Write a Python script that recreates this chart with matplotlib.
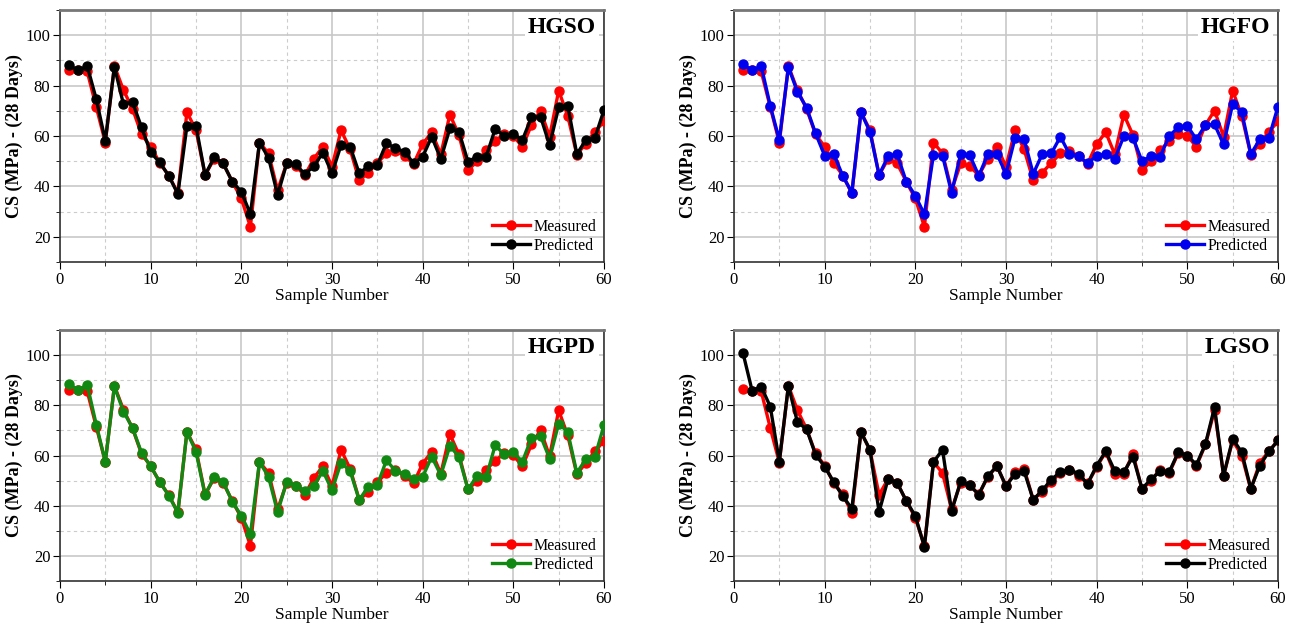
import numpy as np
import matplotlib
matplotlib.use("Agg")
from matplotlib import pyplot as plt
from matplotlib.ticker import MultipleLocator

plt.rcParams['font.family'] = ['Liberation Serif', 'DejaVu Serif']

# sample numbers 1..60
samples = np.arange(1, 61)

# measured compressive strength (HG mixes share the same measured set)
measured_hg = [86.2, 86.0, 85.6, 71.5, 57.4, 87.8, 78.2, 70.8, 60.6, 55.8,
               49.4, 44.3, 37.3, 69.4, 62.4, 44.5, 50.9, 49.1, 41.9, 35.2,
               24.0, 57.4, 53.1, 38.5, 49.1, 48.0, 44.4, 51.0, 55.8, 47.8,
               62.3, 54.7, 42.4, 45.5, 49.3, 53.1, 54.1, 52.0, 49.0, 56.8,
               61.5, 52.7, 68.5, 60.4, 46.5, 49.9, 54.3, 58.0, 60.8, 60.1,
               55.7, 64.4, 70.1, 59.7, 78.0, 68.0, 52.6, 57.0, 61.7, 65.8]

measured_lg = [86.5, 85.8, 85.6, 71.0, 57.2, 87.8, 78.0, 70.6, 60.8, 56.0,
               49.0, 44.5, 37.2, 69.5, 62.0, 44.3, 50.7, 49.1, 41.9, 35.2,
               24.0, 57.4, 53.0, 38.5, 49.1, 48.1, 44.6, 51.5, 55.8, 47.8,
               53.3, 54.7, 42.4, 45.6, 49.5, 53.1, 54.2, 52.0, 48.9, 55.3,
               61.5, 52.5, 52.7, 60.7, 46.5, 50.0, 54.4, 53.0, 61.0, 60.0,
               55.8, 64.4, 78.0, 52.0, 66.0, 60.0, 46.5, 57.2, 61.7, 66.0]

pred_hgso = [88.2, 86.0, 87.8, 74.6, 58.1, 87.5, 72.6, 73.4, 63.4, 53.5,
             49.5, 44.2, 37.0, 64.0, 64.0, 44.5, 51.5, 49.1, 41.9, 37.9,
             29.0, 57.4, 51.4, 36.6, 49.1, 48.7, 44.9, 48.0, 53.4, 45.2,
             56.4, 55.8, 45.2, 48.0, 48.5, 57.1, 55.1, 53.8, 49.1, 51.8,
             59.7, 50.9, 63.0, 61.7, 49.8, 51.8, 51.8, 62.8, 60.1, 60.8,
             58.4, 67.4, 67.7, 56.4, 71.4, 72.1, 52.8, 58.4, 59.3, 70.3]

pred_hgfo = [88.5, 86.0, 87.8, 72.0, 58.4, 87.3, 77.5, 71.3, 61.0, 52.2,
             52.8, 44.2, 37.5, 69.5, 61.6, 44.5, 52.0, 52.7, 41.9, 36.3,
             28.9, 52.5, 52.2, 37.5, 52.8, 52.4, 44.2, 52.8, 52.8, 45.0,
             59.3, 58.7, 45.0, 52.8, 53.1, 59.7, 52.8, 52.2, 49.1, 52.2,
             52.8, 50.9, 60.0, 59.3, 50.0, 52.0, 51.8, 60.0, 63.4, 64.0,
             58.7, 64.4, 64.6, 56.7, 72.7, 69.5, 52.8, 58.7, 59.3, 71.7]

pred_hgpd = [88.5, 86.0, 88.2, 72.3, 57.5, 87.5, 77.5, 71.0, 61.0, 55.7,
             49.5, 44.0, 37.2, 69.4, 61.5, 44.2, 51.5, 49.5, 41.6, 36.0,
             28.6, 57.5, 51.5, 37.4, 49.5, 48.0, 46.0, 48.0, 53.8, 46.2,
             57.2, 53.8, 42.3, 47.6, 48.2, 58.1, 53.9, 52.8, 50.6, 51.5,
             59.5, 52.2, 63.8, 59.5, 46.5, 51.9, 51.3, 64.1, 60.4, 61.2,
             57.5, 67.0, 67.8, 58.8, 72.7, 69.4, 53.1, 58.5, 59.5, 72.1]

pred_lgso = [100.7, 85.8, 87.4, 79.5, 57.6, 87.8, 73.2, 70.6, 60.3, 55.6,
             49.4, 43.8, 38.8, 69.3, 62.3, 37.5, 50.7, 49.1, 41.9, 35.9,
             23.6, 57.4, 62.3, 37.8, 49.7, 48.1, 44.4, 51.8, 55.8, 47.8,
             52.7, 53.8, 42.4, 46.1, 50.4, 53.4, 54.4, 52.7, 48.7, 56.0,
             61.6, 53.8, 53.4, 59.6, 46.8, 50.5, 53.8, 53.4, 61.3, 60.0,
             56.3, 64.6, 79.2, 52.0, 66.6, 61.3, 46.8, 56.0, 61.6, 66.0]

panels = [
    ('HGSO', measured_hg, pred_hgso, 'black'),
    ('HGFO', measured_hg, pred_hgfo, '#0000ee'),
    ('HGPD', measured_hg, pred_hgpd, '#118811'),
    ('LGSO', measured_lg, pred_lgso, 'black'),
]

# axes boxes in pixels: left, top, right, bottom
W, H = 1296, 626
boxes = [(60, 10, 604, 262), (734, 10, 1278, 262),
         (60, 330, 604, 581), (734, 330, 1278, 581)]

fig = plt.figure(figsize=(W / 100, H / 100), dpi=100)

for (name, meas, pred, col), (l, t, r, b) in zip(panels, boxes):
    ax = fig.add_axes([l / W, 1 - b / H, (r - l) / W, (b - t) / H])
    ax.plot(samples, meas, '-o', color='#ff0000', lw=2.4, ms=6.5,
            label='Measured', zorder=3)
    ax.plot(samples, pred, '-o', color=col, lw=2.4, ms=6.5,
            label='Predicted', zorder=3)

    ax.set_xlim(0, 60)
    ax.set_ylim(10, 110)
    ax.xaxis.set_major_locator(MultipleLocator(10))
    ax.xaxis.set_minor_locator(MultipleLocator(5))
    ax.yaxis.set_minor_locator(MultipleLocator(10))
    ax.set_yticks([20, 40, 60, 80, 100])
    ax.grid(which='major', color='#c8c8c8', lw=1.2, ls='-')
    ax.grid(which='minor', color='#cccccc', lw=0.8, ls=(0, (3, 3)))
    ax.set_axisbelow(True)
    ax.tick_params(which='both', direction='out', labelsize=12, pad=2,
                   top=False, right=False)
    ax.tick_params(which='major', length=5)
    ax.tick_params(which='minor', length=3)
    for s in ax.spines.values():
        s.set_color('#333333')
        s.set_linewidth(1.2)
    ax.spines['top'].set_color('#777777')
    ax.spines['top'].set_linewidth(2)

    ax.set_xlabel('Sample Number', fontsize=12.5, labelpad=0)
    ax.set_ylabel('CS (MPa) - (28 Days)', fontsize=13, fontweight='bold')
    ax.yaxis.set_label_coords(-0.068, 0.5)

    ax.text(0.985, 0.93, name, transform=ax.transAxes, ha='right',
            va='center', fontsize=17, fontweight='bold', zorder=5,
            bbox=dict(fc='white', ec='none', pad=2))

    ax.legend(loc='lower right', frameon=False, fontsize=11.5,
              handlelength=2.4, handletextpad=0.2, labelspacing=0.2,
              borderaxespad=0.1)

fig.savefig('out.png', dpi=100)
